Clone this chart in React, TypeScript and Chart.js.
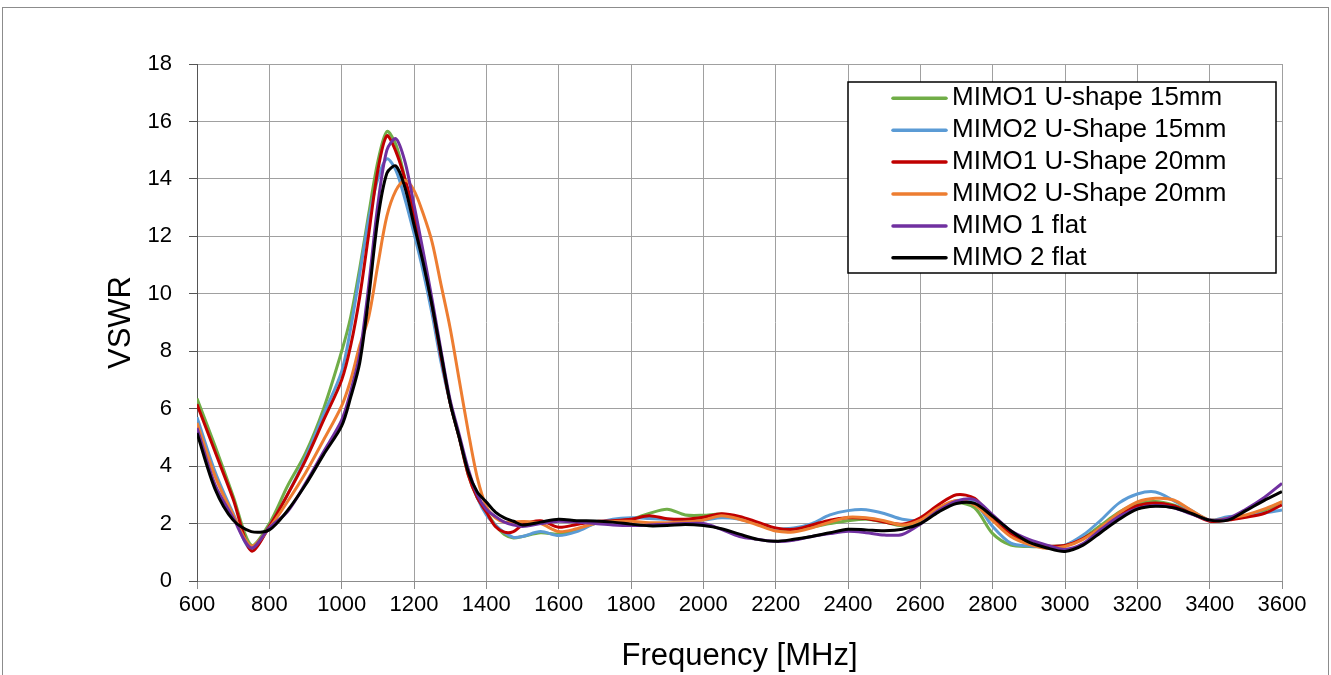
import React, { useEffect, useRef } from "react";
import { Chart, registerables } from "chart.js";

Chart.register(...registerables);

// Frequency samples [MHz]
const FREQS = [
  600, 650, 700, 750, 800, 850, 900, 950, 1000,
  1025, 1050, 1075, 1100, 1125, 1150, 1175, 1200, 1225, 1250, 1275, 1300, 1325, 1350, 1375, 1400, 1425, 1450, 1475, 1500,
  1550, 1600, 1650, 1700, 1750, 1800, 1850, 1900, 1950, 2000, 2050, 2100, 2150, 2200, 2250, 2300, 2350, 2400, 2450, 2500,
  2550, 2600, 2650, 2700, 2750, 2800, 2850, 2900, 2950, 3000, 3050, 3100, 3150, 3200, 3250, 3300, 3350, 3400, 3450, 3500,
  3550, 3600,
];

const MIMO1_U15 = [
  6.35, 4.7, 2.95, 1.25, 2.0, 3.3, 4.45, 6.0, 8.0,
  9.2, 10.9, 12.8, 14.6, 15.65, 15.2, 14.0, 12.6, 11.1, 9.6, 7.8, 6.2, 5.0, 3.7, 2.9, 2.4, 1.95, 1.62, 1.5, 1.55,
  1.68, 1.63, 1.78, 2.0, 2.07, 2.15, 2.35, 2.5, 2.3, 2.29, 2.33, 2.21, 2.0, 1.8, 1.82, 1.88, 2.0, 2.1, 2.15, 2.05,
  1.92, 2.07, 2.5, 2.72, 2.55, 1.65, 1.25, 1.2, 1.2, 1.25, 1.5, 1.95, 2.4, 2.7, 2.77, 2.65, 2.42, 2.12, 2.18, 2.26,
  2.45, 2.76,
];

const MIMO2_U15 = [
  5.7, 3.8, 2.35, 1.08, 1.9, 3.0, 4.3, 5.8, 7.3,
  8.8, 10.7, 12.6, 14.0, 14.7, 14.3, 13.3, 12.1, 10.8, 9.3, 7.6, 6.2, 5.0, 3.8, 2.9, 2.3, 1.95, 1.69, 1.52, 1.55,
  1.72, 1.58, 1.72, 2.0, 2.15, 2.2, 2.18, 2.15, 2.1, 2.12, 2.2, 2.15, 2.02, 1.82, 1.85, 2.0, 2.3, 2.45, 2.48, 2.35,
  2.15, 2.12, 2.5, 2.8, 2.72, 1.9, 1.32, 1.22, 1.2, 1.25, 1.6, 2.13, 2.72, 3.03, 3.1, 2.8, 2.45, 2.12, 2.24, 2.28,
  2.36, 2.47,
];

const MIMO1_U20 = [
  6.15, 4.5, 2.85, 1.05, 1.9, 3.0, 4.2, 5.6, 7.0,
  8.2, 9.9, 12.1, 14.3, 15.5, 14.95, 14.0, 12.8, 11.2, 9.6, 7.8, 6.2, 5.0, 3.7, 2.9, 2.4, 1.9, 1.7, 1.72, 1.95,
  2.1, 1.87, 1.97, 2.07, 2.1, 2.15, 2.27, 2.17, 2.15, 2.22, 2.34, 2.25, 2.05, 1.85, 1.8, 1.95, 2.12, 2.2, 2.18, 2.05,
  1.98, 2.2, 2.65, 3.0, 2.88, 2.15, 1.65, 1.32, 1.22, 1.24, 1.48, 1.85, 2.28, 2.62, 2.72, 2.62, 2.35, 2.08, 2.12, 2.22,
  2.35, 2.65,
];

const MIMO2_U20 = [
  5.5, 3.65, 2.3, 1.22, 1.85, 2.76, 3.76, 4.91, 6.1,
  7.0, 8.2, 9.2, 11.0, 12.7, 13.6, 13.95, 13.6, 12.8, 11.8, 10.3, 8.8, 7.0, 5.2, 3.6, 2.6, 2.2, 2.05, 2.05, 2.07,
  2.0, 1.72, 1.82, 2.0, 2.07, 2.08, 2.03, 2.03, 2.05, 2.12, 2.27, 2.15, 1.95, 1.74, 1.71, 1.85, 2.05, 2.22, 2.2, 2.1,
  1.95, 2.12, 2.55, 2.8, 2.65, 2.1, 1.55, 1.28, 1.14, 1.2, 1.45, 1.88, 2.38, 2.75, 2.88, 2.82, 2.45, 2.12, 2.18, 2.3,
  2.5, 2.76,
];

const MIMO1_FLAT = [
  5.33, 3.35, 2.2, 1.15, 1.85, 2.41, 3.4, 4.5, 5.6,
  6.6, 7.9, 10.3, 13.1, 15.0, 15.4, 14.6, 13.1, 11.5, 9.8, 8.0, 6.3, 5.1, 3.9, 3.0, 2.5, 2.25, 2.05, 1.95, 1.9,
  2.0, 2.08, 2.05, 2.0, 1.95, 1.93, 1.95, 1.98, 2.0, 2.0, 1.8, 1.55, 1.45, 1.38, 1.42, 1.55, 1.65, 1.73, 1.68, 1.6,
  1.62, 1.98, 2.45, 2.78, 2.83, 2.3, 1.75, 1.45, 1.25, 1.1, 1.3, 1.8, 2.25, 2.53, 2.63, 2.55, 2.33, 2.12, 2.18, 2.5,
  2.9, 3.4,
];

const MIMO2_FLAT = [
  5.15, 3.2, 2.12, 1.72, 1.78, 2.45, 3.35, 4.4, 5.4,
  6.4, 7.6, 9.9, 12.6, 14.2, 14.45, 13.7, 12.4, 11.1, 9.6, 7.9, 6.2, 5.0, 3.8, 3.1, 2.75, 2.4, 2.2, 2.08, 1.95,
  2.05, 2.15, 2.1, 2.09, 2.05, 1.98, 1.92, 1.93, 1.97, 1.93, 1.82, 1.63, 1.45, 1.38, 1.45, 1.55, 1.68, 1.8, 1.78, 1.75,
  1.8, 2.0, 2.4, 2.7, 2.7, 2.25, 1.75, 1.35, 1.15, 1.03, 1.25, 1.7, 2.15, 2.5, 2.6, 2.55, 2.35, 2.12, 2.12, 2.45,
  2.8, 3.11,
];

const SERIES_LABELS = [
  "MIMO1 U-shape 15mm",
  "MIMO2 U-Shape 15mm",
  "MIMO1 U-Shape 20mm",
  "MIMO2 U-Shape 20mm",
  "MIMO 1 flat",
  "MIMO 2 flat",
];
const SERIES_VALUES = [MIMO1_U15, MIMO2_U15, MIMO1_U20, MIMO2_U20, MIMO1_FLAT, MIMO2_FLAT];
const SERIES_COLORS = ["#70AD47", "#5B9BD5", "#C00000", "#ED7D31", "#7030A0", "#000000"];

const X_MIN = 600;
const X_MAX = 3600;
const X_STEP = 200;
const Y_MIN = 0;
const Y_MAX = 18;
const Y_STEP = 2;

const FONT = "'Liberation Sans', Arial, Helvetica, sans-serif";

const framePlugin = {
  id: "frame",
  beforeDraw(chart: any) {
    const { ctx, width, height } = chart;
    ctx.save();
    ctx.fillStyle = "#ffffff";
    ctx.fillRect(0, 0, width, height);
    ctx.strokeStyle = "#8c8c8c";
    ctx.lineWidth = 1;
    ctx.strokeRect(2.5, 7.5, width - 5, height + 20);
    ctx.restore();
  },
};

const boxLegendPlugin = {
  id: "boxLegend",
  afterDraw(chart: any) {
    const { ctx, chartArea } = chart;
    const boxW = 428;
    const boxH = 191;
    const boxRight = chartArea.right - 6;
    const boxLeft = boxRight - boxW;
    const boxTop = chartArea.top + 18;
    const rowH = 31.9;
    ctx.save();
    ctx.fillStyle = "#ffffff";
    ctx.fillRect(boxLeft, boxTop, boxW, boxH);
    ctx.strokeStyle = "#000000";
    ctx.lineWidth = 1.5;
    ctx.strokeRect(boxLeft, boxTop, boxW, boxH);
    ctx.font = `26px ${FONT}`;
    ctx.textBaseline = "middle";
    ctx.textAlign = "left";
    chart.data.datasets.forEach((ds: any, i: number) => {
      const y = boxTop + 16.3 + rowH * i;
      ctx.strokeStyle = ds.borderColor;
      ctx.lineWidth = 3.5;
      ctx.lineCap = "round";
      ctx.beginPath();
      ctx.moveTo(boxLeft + 45, y);
      ctx.lineTo(boxLeft + 98, y);
      ctx.stroke();
      ctx.fillStyle = "#000000";
      ctx.fillText(ds.label, boxLeft + 104, y);
    });
    ctx.restore();
  },
};

export default function App() {
  const canvasRef = useRef<HTMLCanvasElement>(null);

  useEffect(() => {
    const canvas = canvasRef.current;
    if (!canvas) return;
    const datasets = SERIES_VALUES.map((vals, i) => ({
      label: SERIES_LABELS[i],
      data: FREQS.map((f, k) => ({ x: f, y: vals[k] })),
      borderColor: SERIES_COLORS[i],
      backgroundColor: SERIES_COLORS[i],
      borderWidth: 3,
      pointRadius: 0,
      pointHoverRadius: 0,
      tension: 0.3,
      fill: false,
      order: SERIES_VALUES.length - i,
    }));

    const chart = new Chart(canvas, {
      type: "line",
      data: { datasets },
      options: {
        responsive: false,
        animation: false,
        devicePixelRatio: 1,
        layout: { padding: { left: 0, top: 64, right: 49, bottom: 0 } },
        plugins: {
          legend: { display: false },
          tooltip: { enabled: false },
        },
        scales: {
          x: {
            type: "linear",
            min: X_MIN,
            max: X_MAX,
            afterFit: (scale: any) => {
              scale.height = 94;
            },
            ticks: {
              stepSize: X_STEP,
              color: "#000000",
              font: { family: FONT, size: 22 },
              padding: 3,
              maxRotation: 0,
              autoSkip: false,
              callback: (v: any) => String(v),
            },
            grid: {
              color: "#a0a0a0",
              lineWidth: 1,
              tickLength: 8,
              tickColor: "#8c8c8c",
            },
            border: { color: "#8c8c8c", width: 1 },
            title: {
              display: true,
              text: "Frequency [MHz]",
              color: "#000000",
              font: { family: FONT, size: 31 },
              padding: { top: 0, bottom: 0 },
            },
          },
          y: {
            type: "linear",
            min: Y_MIN,
            max: Y_MAX,
            afterFit: (scale: any) => {
              scale.width = 197;
            },
            ticks: {
              stepSize: Y_STEP,
              color: "#000000",
              font: { family: FONT, size: 22 },
              padding: 17,
              callback: (v: any) => String(v),
            },
            grid: {
              color: "#a0a0a0",
              lineWidth: 1,
              tickLength: 8,
              tickColor: "#555555",
            },
            border: { color: "#555555", width: 1 },
            title: {
              display: true,
              text: "VSWR",
              color: "#000000",
              font: { family: FONT, size: 31 },
              padding: { top: 103, bottom: 0 },
            },
          },
        },
      },
      plugins: [framePlugin, boxLegendPlugin],
    });

    return () => chart.destroy();
  }, []);

  return (
    <div style={{ position: "absolute", left: 0, top: 0, width: 1331, height: 675, background: "#ffffff" }}>
      <canvas ref={canvasRef} width={1331} height={675} style={{ display: "block", width: 1331, height: 675 }} />
    </div>
  );
}
